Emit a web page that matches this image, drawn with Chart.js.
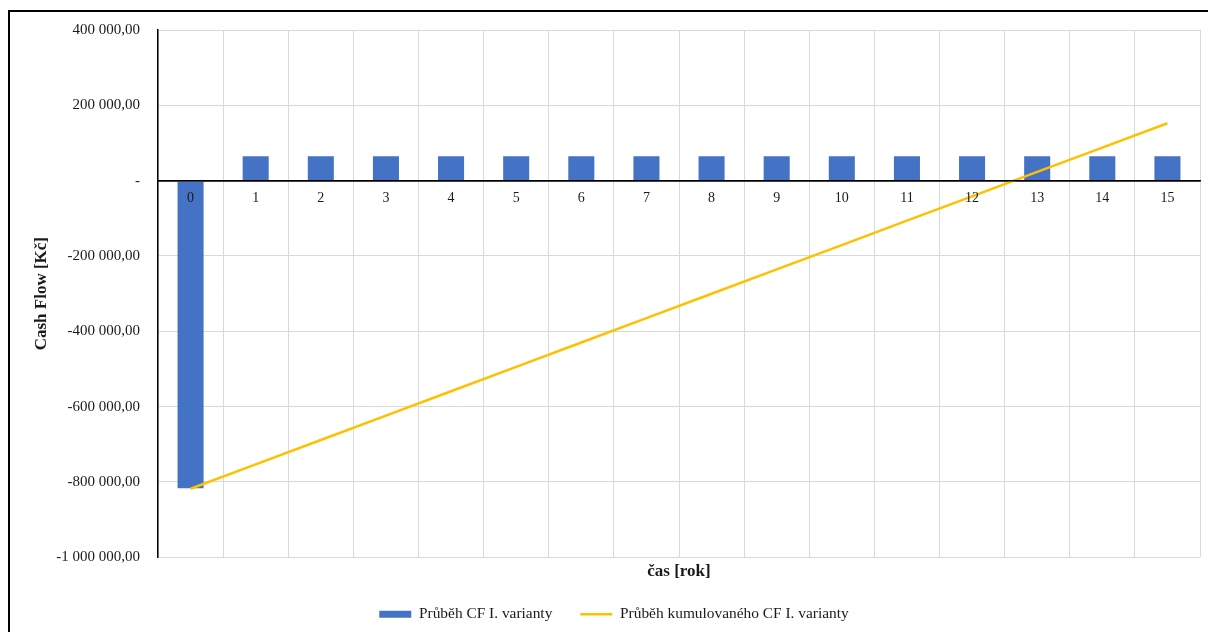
<!DOCTYPE html>
<html lang="cs">
<head>
<meta charset="utf-8">
<title>Cash Flow – I. varianta</title>
<script src="https://cdn.jsdelivr.net/npm/chart.js@4/dist/chart.umd.min.js"></script>
<style>
  html, body { margin: 0; padding: 0; background: #ffffff; }
  #wrap { position: relative; width: 1208px; height: 632px; }
  canvas { display: block; }
</style>
</head>
<body>
<div id="wrap"><canvas id="cf" width="1208" height="632"></canvas></div>
<script>
// Years of the project life
const years = ['0', '1', '2', '3', '4', '5', '6', '7', '8', '9', '10', '11', '12', '13', '14', '15'];

// Yearly cash flow [Kč]
const cashFlow = [-817000, 65000, 65000, 65000, 65000, 65000, 65000, 65000,
                  65000, 65000, 65000, 65000, 65000, 65000, 65000, 65000];

// Cumulated cash flow [Kč]
const cumulativeCF = [-818000, -753300, -688600, -623900, -559200, -494500, -429800, -365100,
                      -300400, -235700, -171000, -106300, -41600, 23100, 87800, 152500];

// Value axis ticks
const yTicks = [-1000000, -800000, -600000, -400000, -200000, 0, 200000, 400000];

const seriesNames = ['Průběh CF I. varianty', 'Průběh kumulovaného CF I. varianty'];
const axisTitles = { x: 'čas [rok]', y: 'Cash Flow [Kč]' };

const SERIF = '"Liberation Serif", "Times New Roman", serif';
const TEXT = '#1a1a1a';
const GRID = '#d9d9d9';

// Czech accounting style: "400 000,00", zero shown as "-"
function formatKc(v) {
  if (v === 0) return '-';
  const abs = Math.abs(v).toFixed(0).replace(/\B(?=(\d{3})+(?!\d))/g, ' ');
  return (v < 0 ? '-' : '') + abs + ',00';
}

// White background and the chart frame (left and top edges)
const framePlugin = {
  id: 'frame',
  beforeDraw(chart) {
    const ctx = chart.ctx;
    ctx.save();
    ctx.fillStyle = '#ffffff';
    ctx.fillRect(0, 0, chart.width, chart.height);
    ctx.fillStyle = '#000000';
    ctx.fillRect(8, 10, 2, chart.height - 10);
    ctx.fillRect(8, 10, chart.width - 8, 2);
    ctx.restore();
  }
};

// Move the legend row slightly to the right of the canvas centre
const legendShift = {
  id: 'legendShift',
  afterLayout(chart) {
    const lg = chart.legend;
    if (lg) { lg.left += 9; lg.right += 9; }
  }
};

const legendStyles = ['rect', 'line'];

new Chart(document.getElementById('cf'), {
  data: {
    labels: years,
    datasets: [
      {
        type: 'bar',
        label: seriesNames[0],
        data: cashFlow,
        backgroundColor: '#4472C4',
        borderWidth: 0,
        barPercentage: 0.4,
        categoryPercentage: 1.0,
        order: 2
      },
      {
        type: 'line',
        label: seriesNames[1],
        data: cumulativeCF,
        borderColor: '#FFC000',
        backgroundColor: '#FFC000',
        borderWidth: 2.5,
        pointRadius: 0,
        tension: 0,
        fill: false,
        order: 1
      }
    ]
  },
  options: {
    responsive: false,
    animation: false,
    devicePixelRatio: 1,
    layout: { padding: { left: 10, top: 30, right: 8, bottom: 0 } },
    plugins: {
      tooltip: { enabled: false },
      legend: {
        position: 'bottom',
        labels: {
          usePointStyle: true,
          pointStyleWidth: 32,
          boxHeight: 7,
          padding: 28,
          color: TEXT,
          font: { family: SERIF, size: 15.4 },
          sort: (a, b) => a.datasetIndex - b.datasetIndex,
          generateLabels(chart) {
            const items = Chart.defaults.plugins.legend.labels.generateLabels(chart);
            items.forEach(it => { it.pointStyle = legendStyles[it.datasetIndex]; });
            return items;
          }
        }
      }
    },
    scales: {
      x: {
        type: 'category',
        position: 'bottom',
        offset: true,
        grid: { display: true, offset: true, color: GRID, lineWidth: 1, drawTicks: false },
        border: { display: false },
        ticks: { display: false },
        title: {
          display: true,
          text: axisTitles.x,
          color: TEXT,
          font: { family: SERIF, size: 17, weight: 'bold', lineHeight: 0.86 },
          padding: { top: 6.7, bottom: 0 }
        }
      },
      xZero: {
        type: 'category',
        position: { y: 0 },
        offset: true,
        grid: { display: false, drawTicks: false },
        border: { display: true, color: '#000000', width: 1.5, z: 1 },
        ticks: {
          z: 1,
          autoSkip: false,
          maxRotation: 0,
          padding: 9,
          color: TEXT,
          font: { family: SERIF, size: 14 }
        }
      },
      y: {
        type: 'linear',
        position: 'left',
        min: -1000000,
        max: 400000,
        afterBuildTicks(scale) { scale.ticks = yTicks.map(v => ({ value: v })); },
        afterFit(scale) { scale.width = 148; },
        grid: {
          drawTicks: false,
          color: ctx => (ctx.tick && ctx.tick.value === 0 ? '#000000' : GRID),
          lineWidth: ctx => (ctx.tick && ctx.tick.value === 0 ? 1.5 : 1)
        },
        border: { display: true, color: '#000000', width: 1.5 },
        ticks: {
          padding: 18,
          color: TEXT,
          font: { family: SERIF, size: 15 },
          callback: v => formatKc(v)
        },
        title: {
          display: true,
          text: axisTitles.y,
          color: TEXT,
          font: { family: SERIF, size: 17, weight: 'bold', lineHeight: 1 },
          padding: { top: 23, bottom: 0 }
        }
      }
    }
  },
  plugins: [framePlugin, legendShift]
});
</script>
</body>
</html>
